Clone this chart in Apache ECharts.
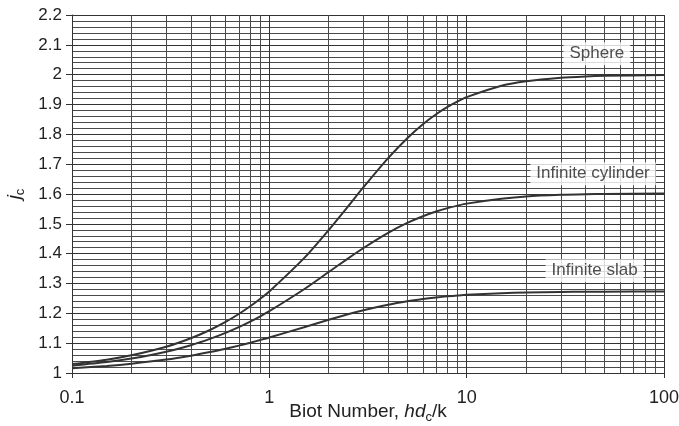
<!DOCTYPE html>
<html><head><meta charset="utf-8">
<script src="https://cdn.jsdelivr.net/npm/echarts@6/dist/echarts.min.js"></script>
<style>html,body{margin:0;padding:0;background:#fff}#c{width:679px;height:426px}</style>
</head><body><div id="c"></div>
<script>
const biot = [0.1,0.15,0.2,0.3,0.4,0.5,0.6,0.7,0.8,0.9,1,1.5,2,2.5,3,4,5,6,7,8,9,10,15,20,30,40,50,100];
const sphere = [1.0298,1.0445,1.0592,1.0880,1.1164,1.1441,1.1713,1.1978,1.2236,1.2488,1.2732,1.385,1.4793,1.5577,1.6227,1.7202,1.7870,1.8338,1.8673,1.8920,1.9106,1.9249,1.9628,1.9781,1.9898,1.9942,1.9962,1.9990];
const cylinder = [1.0246,1.0365,1.0483,1.0712,1.0931,1.1143,1.1345,1.1539,1.1724,1.1902,1.2071,1.2807,1.3384,1.3836,1.4191,1.4698,1.5029,1.5253,1.5411,1.5526,1.5611,1.5677,1.5839,1.5919,1.5973,1.5993,1.6002,1.6015];
const slab = [1.0161,1.0237,1.0311,1.0450,1.0580,1.0701,1.0814,1.0918,1.1016,1.1107,1.1191,1.1536,1.1785,1.1970,1.2102,1.2287,1.2403,1.2479,1.2532,1.2570,1.2598,1.2620,1.2672,1.2699,1.2717,1.2723,1.2727,1.2731];
const minorX = [0.2,0.3,0.4,0.5,0.6,0.7,0.8,0.9,2,3,4,5,6,7,8,9,20,30,40,50,60,70,80,90];
const curveLabels = ['Sphere','Infinite cylinder','Infinite slab'];
const labelAnchors = [[45.7,2.07],[43.7,1.668],[44.5,1.343]];

const chart = echarts.init(document.getElementById('c'));
const FONT = 'Liberation Sans, Arial, sans-serif';
const gridColor = '#4a4a4a';
function curve(name, vals){
  return {name, type:'line', data: biot.map((b,i)=>[b, vals[i]]), showSymbol:false, smooth:0.25,
    lineStyle:{color:'#333', width:2}, z:5};
}
const s0 = curve('Sphere', sphere);
s0.markLine = {silent:true, symbol:'none', label:{show:false}, animation:false,
  lineStyle:{color:gridColor, width:1, type:'solid'}, data: minorX.map(v=>({xAxis:v}))};
chart.setOption({
  animation:false,
  grid:{left:72, right:15, top:15, bottom:53, outerBoundsMode:'none', containLabel:false},
  xAxis:{type:'log', logBase:10, min:0.1, max:100,
    axisLine:{show:true, lineStyle:{color:'#333', width:1}},
    axisTick:{show:true, length:5, lineStyle:{color:'#333'}},
    axisLabel:{fontFamily:FONT, fontSize:18, color:'#222', margin:16},
    splitLine:{show:true, lineStyle:{color:'#333', width:1}},
    name:'{n|Biot Number, }{i|hd}{s|c}{n|/k}', nameLocation:'middle', nameGap:27, nameMoveOverlap:false,
    nameTextStyle:{fontFamily:FONT, rich:{
      n:{fontFamily:FONT, fontSize:19, color:'#222', lineHeight:24},
      i:{fontFamily:FONT, fontSize:19, fontStyle:'italic', color:'#222', lineHeight:24},
      s:{fontFamily:FONT, fontSize:13, color:'#222', lineHeight:12, verticalAlign:'bottom'}}}
  },
  yAxis:{type:'value', min:1, max:2.2, interval:0.1,
    axisLine:{show:true, lineStyle:{color:'#333', width:1}},
    axisTick:{show:true, length:6, inside:false, lineStyle:{color:'#333'}},
    axisLabel:{fontFamily:FONT, fontSize:17, color:'#222', margin:10},
    splitLine:{show:true, lineStyle:{color:'#333', width:1}},
    minorTick:{show:false, splitNumber:5},
    minorSplitLine:{show:true, lineStyle:{color:gridColor, width:1}},
    name:'{i|j}{s|c}', nameLocation:'middle', nameGap:45, nameRotate:90, nameMoveOverlap:false,
    nameTextStyle:{fontFamily:FONT, rich:{
      i:{fontFamily:FONT, fontSize:19, fontStyle:'italic', color:'#222', lineHeight:24},
      s:{fontFamily:FONT, fontSize:13, color:'#222', lineHeight:12, verticalAlign:'bottom'}}}
  },
  series:[
    s0, curve('Infinite cylinder', cylinder), curve('Infinite slab', slab),
    {type:'scatter', symbolSize:0, z:10, silent:true,
      data: labelAnchors.map((p,i)=>({value:p, name:curveLabels[i]})),
      label:{show:true, position:'inside', formatter:'{b}', fontFamily:FONT, fontSize:17, color:'#222',
        backgroundColor:'#fff', padding:[3,6,3,6]}}
  ]
});
</script></body></html>
